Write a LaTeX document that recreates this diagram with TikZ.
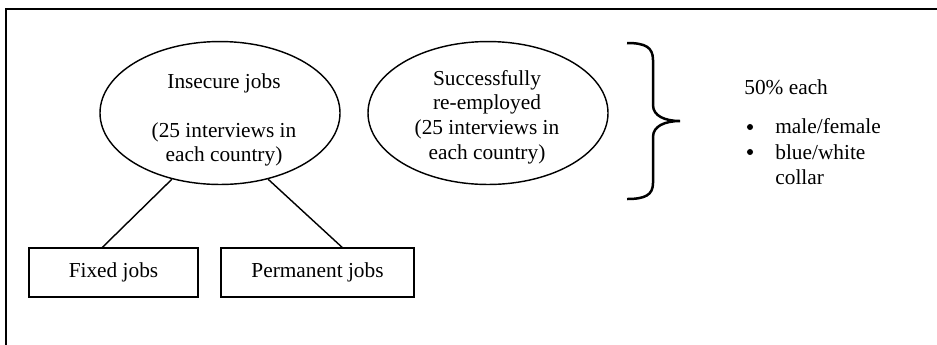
\documentclass[tikz,border=0pt]{standalone}
\usepackage{fontspec}
\setmainfont{Liberation Serif}
\usetikzlibrary{shapes.geometric}
\tikzset{>=latex}

\begin{document}
\begin{tikzpicture}[x=0.5625pt, y=-0.5625pt,
    every node/.style={font=\fontsize{12}{13.8}\selectfont},
    group/.style={draw, ellipse, line width=0.8pt, inner sep=0pt,
      minimum width=135pt, minimum height=80.4pt},
    jobbox/.style={draw, rectangle, line width=0.8pt, inner sep=0pt,
      minimum height=27.6pt},
    txt/.style={align=center, inner sep=0pt},
    dot/.style={circle, fill, inner sep=0pt, minimum size=3.4pt}]
      \useasboundingbox (0,0) rectangle (937,344);
      % frame, cut off at right and bottom
      \draw[line width=1pt] (6,9) rectangle (980,400);
      % the two groups
      \node[group] (insecure) at (220,113) {};
      \node[txt] (insecuretxt) at (224,120)
        {Insecure jobs\\[13.8pt](25 interviews in\\each country)};
      \node[group] (reemp) at (488,113) {};
      \node[txt] (reemptxt) at (487,117)
        {Successfully\\re-employed\\(25 interviews in\\each country)};
      % the split of insecure jobs
      \node[jobbox, minimum width=95pt] (fixed) at (113.5,272.5) {Fixed jobs};
      \node[jobbox, minimum width=108.6pt] (perm) at (317.5,272.5) {Permanent jobs};
      \draw[line width=0.8pt] (insecure.234) -- ([xshift=-6.2pt]fixed.north);
      \draw[line width=0.8pt] (insecure.306) -- ([xshift=13.8pt]perm.north);
      % brace
      \draw[line width=1.4pt] (627,43) .. controls (645,43) and (653,47) .. (653,60)
        -- (653,105) .. controls (653,116) and (665,121) .. (680,121)
        .. controls (665,121) and (653,126) .. (653,137)
        -- (653,183) .. controls (653,195) and (645,199) .. (627,199);
      % quota
      \node[anchor=west, inner sep=0pt] (share) at (744,87) {50\% each};
      \node[dot] (bul1) at (750,127) {};
      \node[anchor=west, inner sep=0pt] (item1) at (775,126) {male/female};
      \node[dot] (bul2) at (750,152) {};
      \node[anchor=west, inner sep=0pt, align=left] (item2) at (775,164.5) {blue/white\\collar};
\end{tikzpicture}
\end{document}
